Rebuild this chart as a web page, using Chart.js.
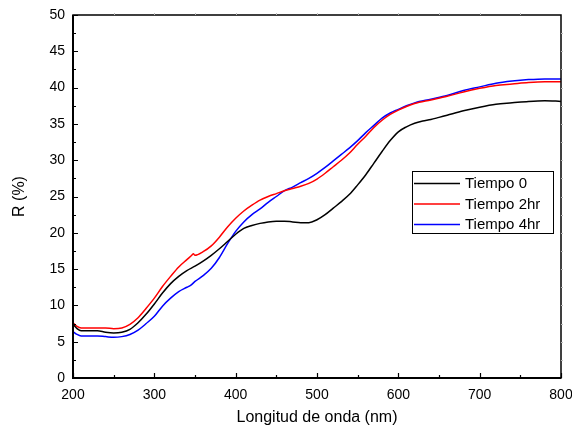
<!DOCTYPE html>
<html>
<head>
<meta charset="utf-8">
<script src="https://cdn.jsdelivr.net/npm/chart.js@4.4.1/dist/chart.umd.min.js"></script>
<style>
html,body{margin:0;padding:0;background:#fff;}
#wrap{width:572px;height:431px;position:relative;}
</style>
</head>
<body>
<div id="wrap"><canvas id="c" width="572" height="431"></canvas></div>
<script>
const seriesLabels = ['Tiempo 0', 'Tiempo 2hr', 'Tiempo 4hr'];
const seriesColors = ['#000000', '#ff0000', '#0000ff'];

const wl0 = [200,205,210,220,230,240,250,260,270,280,290,300,310,320,330,340,350,360,370,380,390,400,410,420,430,440,450,460,470,480,490,500,510,520,530,540,550,560,570,580,590,600,610,620,630,640,650,660,680,700,720,740,760,780,800];
const r0  = [7.4,6.8,6.5,6.5,6.5,6.3,6.2,6.3,6.7,7.6,8.8,10.2,11.7,13.0,14.0,14.8,15.4,16.1,16.9,17.8,18.8,19.8,20.6,21.0,21.3,21.5,21.6,21.6,21.5,21.4,21.4,21.8,22.5,23.4,24.3,25.3,26.6,28.0,29.6,31.2,32.7,33.9,34.6,35.1,35.4,35.6,35.9,36.2,36.8,37.3,37.7,37.9,38.1,38.2,38.1];

const wl2 = [200,205,210,220,230,240,250,260,270,280,290,300,310,320,330,340,345,348,350,360,370,380,390,400,410,420,430,440,450,460,470,480,490,500,510,520,530,540,550,560,570,580,590,600,610,620,640,660,680,700,720,740,760,780,800];
const r2  = [7.6,7.1,6.9,6.9,6.9,6.9,6.8,6.9,7.4,8.3,9.6,11.0,12.6,14.0,15.3,16.3,16.8,17.1,16.9,17.4,18.2,19.4,20.8,22.0,23.0,23.8,24.5,25.0,25.4,25.8,26.1,26.4,26.8,27.4,28.2,29.1,30.0,31.0,32.2,33.3,34.5,35.5,36.3,36.9,37.4,37.8,38.3,38.8,39.4,39.9,40.3,40.5,40.7,40.8,40.8];

const wl4 = [200,205,210,220,230,240,250,260,270,280,290,300,310,320,330,340,345,350,360,370,380,390,400,410,420,430,440,450,460,470,480,490,500,510,520,530,540,550,560,570,580,590,600,610,620,640,660,680,700,720,740,760,780,800];
const r4  = [6.4,6.0,5.8,5.8,5.8,5.7,5.6,5.7,6.0,6.6,7.5,8.5,9.9,11.0,11.9,12.5,12.8,13.3,14.1,15.1,16.6,18.5,20.2,21.5,22.5,23.3,24.2,25.0,25.8,26.3,26.9,27.5,28.2,29.0,29.9,30.8,31.7,32.7,33.8,34.8,35.8,36.5,37.0,37.5,37.9,38.4,38.9,39.6,40.1,40.6,40.9,41.1,41.2,41.2];

const xTicks = [200,300,400,500,600,700,800];
const yTicks = [0,5,10,15,20,25,30,35,40,45,50];

function pts(xs, ys){ return xs.map((x,i)=>({x:x,y:ys[i]})); }

const FONT = 'Liberation Sans, Arial, sans-serif';

const framePlugin = {
  id:'frame',
  afterDatasetsDraw(chart){
    const ctx = chart.ctx, a = chart.chartArea;
    const xs = chart.scales.x, ys = chart.scales.y;
    ctx.save();
    ctx.strokeStyle = '#000';
    ctx.lineWidth = 1.5;
    ctx.strokeRect(a.left, a.top, a.right - a.left, a.bottom - a.top);
    ctx.lineWidth = 2;
    ctx.beginPath();
    ctx.moveTo(a.left, a.top); ctx.lineTo(a.left, a.bottom); ctx.lineTo(a.right, a.bottom);
    ctx.stroke();
    ctx.lineWidth = 1.2;
    ctx.beginPath();
    for (let v = 200; v <= 800; v += 50) {
      const px = Math.round(xs.getPixelForValue(v)) + 0.5;
      const len = (v % 100 === 0) ? 5 : 3;
      ctx.moveTo(px, a.bottom); ctx.lineTo(px, a.bottom - len);
    }
    for (let v = 0; v <= 50; v += 2.5) {
      const py = Math.round(ys.getPixelForValue(v)) + 0.5;
      const len = (v % 5 === 0) ? 5 : 3;
      ctx.moveTo(a.left, py); ctx.lineTo(a.left + len, py);
    }
    ctx.stroke();
    ctx.strokeStyle = '#bbbbbb';
    ctx.lineWidth = 1;
    ctx.beginPath();
    for (let v = 250; v < 800; v += 50) {
      const px = Math.round(xs.getPixelForValue(v)) + 0.5;
      ctx.moveTo(px, a.top); ctx.lineTo(px, a.top - 2);
    }
    for (let v = 2.5; v < 50; v += 2.5) {
      const py = Math.round(ys.getPixelForValue(v)) + 0.5;
      ctx.moveTo(a.right, py); ctx.lineTo(a.right + 2, py);
    }
    ctx.stroke();

    const bx = 412, by = 171, bw = 141, bh = 62;
    ctx.fillStyle = '#fff';
    ctx.fillRect(bx, by, bw, bh);
    ctx.strokeStyle = '#000';
    ctx.lineWidth = 1;
    ctx.strokeRect(bx + 0.5, by + 0.5, bw, bh);
    ctx.font = '15px ' + FONT;
    ctx.textBaseline = 'middle';
    ctx.textAlign = 'left';
    chart.data.datasets.forEach((ds, i) => {
      const cy = by + 12 + i * 20.5;
      ctx.strokeStyle = ds.borderColor;
      ctx.lineWidth = 1.5;
      ctx.beginPath();
      ctx.moveTo(bx + 2, cy + 0.5); ctx.lineTo(bx + 48, cy + 0.5);
      ctx.stroke();
      ctx.fillStyle = '#000';
      ctx.fillText(ds.label, bx + 53, cy + 1);
    });
    ctx.restore();
  }
};

new Chart(document.getElementById('c'), {
  type:'line',
  data:{
    datasets:[
      {label:seriesLabels[0], data:pts(wl0,r0), borderColor:seriesColors[0], borderWidth:1.5, pointRadius:0, fill:false, cubicInterpolationMode:'monotone'},
      {label:seriesLabels[1], data:pts(wl2,r2), borderColor:seriesColors[1], borderWidth:1.5, pointRadius:0, fill:false, cubicInterpolationMode:'monotone'},
      {label:seriesLabels[2], data:pts(wl4,r4), borderColor:seriesColors[2], borderWidth:1.5, pointRadius:0, fill:false, cubicInterpolationMode:'monotone'}
    ]
  },
  options:{
    responsive:false,
    animation:false,
    devicePixelRatio:1,
    layout:{padding:{left:0,right:11,top:15,bottom:0}},
    plugins:{legend:{display:false}, tooltip:{enabled:false}},
    scales:{
      x:{
        type:'linear', min:200, max:800,
        afterFit(s){ s.height = 53; s.paddingLeft = 0; s.paddingRight = 0; },
        afterBuildTicks(s){ s.ticks = xTicks.map(v=>({value:v})); },
        grid:{display:false, drawTicks:false},
        border:{display:false},
        ticks:{color:'#000', font:{family:FONT, size:14}, padding:9, maxRotation:0},
        title:{display:true, text:'Longitud de onda (nm)', color:'#000', font:{family:FONT, size:16}, padding:{top:0,bottom:4}}
      },
      y:{
        type:'linear', min:0, max:50,
        afterFit(s){ s.width = 73; s.paddingTop = 0; s.paddingBottom = 0; },
        afterBuildTicks(s){ s.ticks = yTicks.map(v=>({value:v})); },
        grid:{display:false, drawTicks:false},
        border:{display:false},
        ticks:{color:'#000', font:{family:FONT, size:14}, padding:8},
        title:{display:true, text:'R (%)', color:'#000', font:{family:FONT, size:16}, padding:{top:10,bottom:0}}
      }
    }
  },
  plugins:[framePlugin]
});
</script>
</body>
</html>
